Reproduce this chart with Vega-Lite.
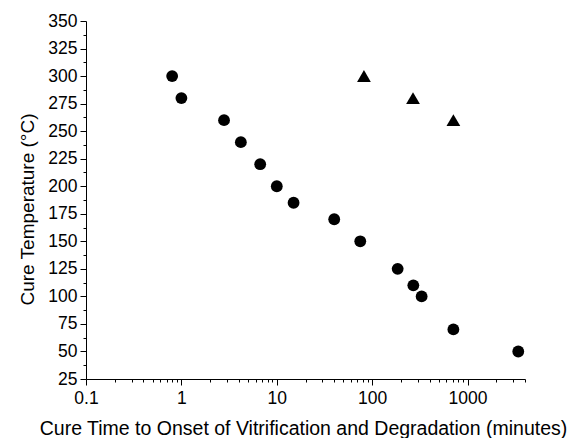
{
  "$schema": "https://vega.github.io/schema/vega-lite/v6.json",
  "autosize": "none",
  "width": 439,
  "height": 358,
  "padding": {"left": 86, "top": 21, "right": 45, "bottom": 59},
  "background": "white",
  "config": {
    "view": {"stroke": null},
    "axis": {
      "labelFont": "Liberation Sans",
      "titleFont": "Liberation Sans",
      "labelFontSize": 17.5,
      "titleFontSize": 19.5,
      "titleFontWeight": "normal",
      "labelColor": "black",
      "titleColor": "black",
      "domainColor": "black",
      "tickColor": "black",
      "domainWidth": 1,
      "tickWidth": 1,
      "grid": false
    }
  },
  "data": {
    "values": [
      {"time": 0.8, "temp": 300, "type": "Vitrification"},
      {"time": 1.0, "temp": 280, "type": "Vitrification"},
      {"time": 2.8, "temp": 260, "type": "Vitrification"},
      {"time": 4.2, "temp": 240, "type": "Vitrification"},
      {"time": 6.7, "temp": 220, "type": "Vitrification"},
      {"time": 10, "temp": 200, "type": "Vitrification"},
      {"time": 15, "temp": 185, "type": "Vitrification"},
      {"time": 40, "temp": 170, "type": "Vitrification"},
      {"time": 75, "temp": 150, "type": "Vitrification"},
      {"time": 185, "temp": 125, "type": "Vitrification"},
      {"time": 270, "temp": 110, "type": "Vitrification"},
      {"time": 330, "temp": 100, "type": "Vitrification"},
      {"time": 710, "temp": 70, "type": "Vitrification"},
      {"time": 3400, "temp": 50, "type": "Vitrification"},
      {"time": 82, "temp": 300, "type": "Degradation"},
      {"time": 268, "temp": 280, "type": "Degradation"},
      {"time": 710, "temp": 260, "type": "Degradation"}
    ]
  },
  "mark": {"type": "point", "filled": true, "opacity": 1, "color": "black"},
  "encoding": {
    "x": {
      "field": "time",
      "type": "quantitative",
      "scale": {"type": "log", "domain": [0.1, 4000], "nice": false},
      "axis": {
        "title": "Cure Time to Onset of Vitrification and Degradation (minutes)",
        "values": [0.1,0.2,0.3,0.4,0.5,0.6,0.7,0.8,0.9,1,2,3,4,5,6,7,8,9,10,20,30,40,50,60,70,80,90,100,200,300,400,500,600,700,800,900,1000,2000,3000,4000],
        "labelExpr": "indexof([0.1,1,10,100,1000], datum.value) >= 0 ? datum.label : ''",
        "format": "~g",
        "tickSize": {"condition": {"test": "indexof([0.1,1,10,100,1000], datum.value) >= 0", "value": 6}, "value": 3},
        "labelPadding": 4,
        "labelFlush": false,
        "labelOverlap": false,
        "titlePadding": 13,
        "titleX": 217
      }
    },
    "y": {
      "field": "temp",
      "type": "quantitative",
      "scale": {"domain": [25, 350], "nice": false, "zero": false},
      "axis": {
        "title": "Cure Temperature (°C)",
        "titleFontSize": 19,
        "values": [25,37.5,50,62.5,75,87.5,100,112.5,125,137.5,150,162.5,175,187.5,200,212.5,225,237.5,250,262.5,275,287.5,300,312.5,325,337.5,350],
        "labelExpr": "datum.value % 25 == 0 ? datum.label : ''",
        "tickSize": {"condition": {"test": "datum.value % 25 == 0", "value": 6}, "value": 3},
        "labelPadding": 3,
        "labelFlush": false,
        "labelOverlap": false,
        "titlePadding": 10,
        "titleY": 188
      }
    },
    "shape": {
      "field": "type",
      "type": "nominal",
      "scale": {"domain": ["Vitrification", "Degradation"], "range": ["circle", "triangle-up"]},
      "legend": null
    },
    "size": {
      "field": "type",
      "type": "nominal",
      "scale": {"domain": ["Vitrification", "Degradation"], "range": [140, 190]},
      "legend": null
    }
  }
}
